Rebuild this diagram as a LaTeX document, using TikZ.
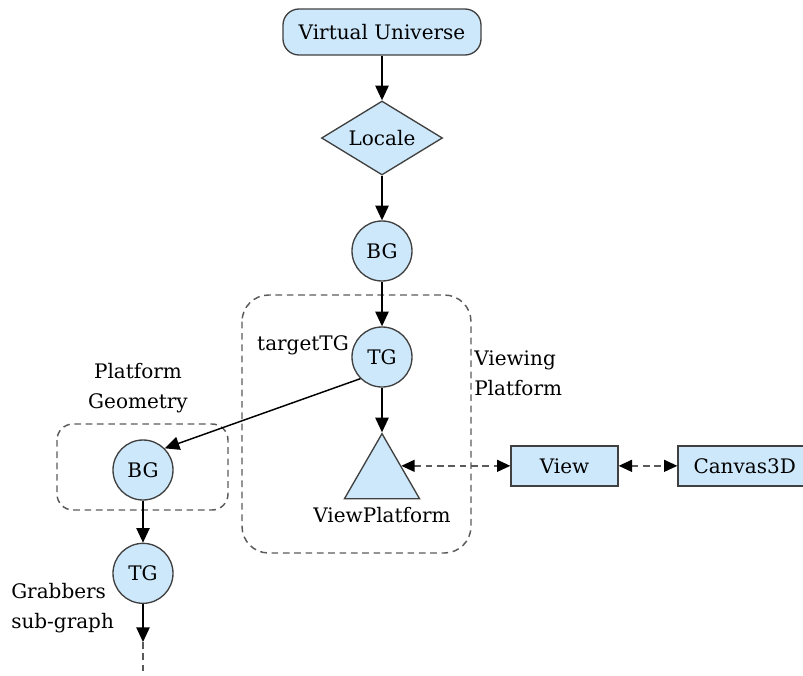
\documentclass[tikz,border=0pt]{standalone}
\usepackage{fontspec}
\setmainfont{DejaVu Serif}
\usetikzlibrary{arrows.meta, positioning, shapes.geometric, calc}
\definecolor{NodeColor}{RGB}{205, 232, 250}
\definecolor{BorderColor}{RGB}{64, 64, 64}
\definecolor{GroupColor}{RGB}{90, 90, 90}

\begin{document}
\begin{tikzpicture}[
    x=0.75pt, y=-0.75pt,
    node distance=33.5pt and 44pt,
    every node/.style={font=\fontsize{15}{18}\selectfont},
    shape_node/.style={
        draw=BorderColor,
        fill=NodeColor,
        line width=1pt,
        inner sep=0pt
    },
    universe/.style={shape_node, rounded corners=12pt, minimum width=148.5pt, minimum height=34.5pt},
    locale_node/.style={shape_node, diamond, aspect=1.635, minimum width=90.75pt, minimum height=55.5pt},
    group_node/.style={shape_node, circle, minimum size=45pt},
    leaf/.style={shape_node, regular polygon, regular polygon sides=3, minimum size=65pt},
    box/.style={shape_node, rectangle, minimum width=80.25pt, minimum height=30pt},
    arrow/.style={-{Triangle[length=11pt, width=10pt]}, line width=1.1pt, black},
    doublearrow/.style={{Triangle[length=10pt, width=9pt, color=black]}-{Triangle[length=10pt, width=9pt, color=black]}, dash pattern=on 5pt off 3.5pt, line width=1.1pt, GroupColor},
    group/.style={draw=GroupColor, dash pattern=on 5pt off 3.5pt, line width=1.1pt},
    caption/.style={align=center, inner sep=0pt}
]

\useasboundingbox (0,0) rectangle (803,675);

% Main scene graph
\node[universe] at (382, 32) (virtual_universe) {Virtual Universe};
\node[locale_node, below=of virtual_universe] (locale) {Locale};
\node[group_node, below=of locale] (branch_group) {BG};
\node[group_node, below=of branch_group] (target_tg) {TG};
\node[leaf, below=of target_tg] (view_platform) {};
\node[caption, below=6pt of view_platform] (view_platform_label) {ViewPlatform};

% View side
\node[box, right=81.75pt of view_platform.30] (view) {View};
\node[box, right=of view, minimum width=100pt] (canvas) {Canvas3D};

% Platform geometry branch
\node[group_node] at (143, 470) (geometry_bg) {BG};
\node[group_node, below=31.5pt of geometry_bg] (grabbers_tg) {TG};
\coordinate[below=28.5pt of grabbers_tg] (grabbers_end);
\coordinate (grabbers_out) at (143, 680);

% Groups
\draw[group, rounded corners=20pt] (242, 295) rectangle (471, 553);
\draw[group, rounded corners=12pt] (57, 424) rectangle (228, 510);

% Labels
\node[caption, anchor=east] at (349, 345) (target_label) {targetTG};
\node[caption, align=left, anchor=west, font=\fontsize{15}{22.5}\selectfont] at (474, 373) (viewing_label) {Viewing\\Platform};
\node[caption, font=\fontsize{15}{22.5}\selectfont] at (138, 388) (geometry_label) {Platform\\Geometry};
\node[caption, align=left, anchor=west, font=\fontsize{15}{22.5}\selectfont] at (11, 608) (grabbers_label) {Grabbers\\sub-graph};

% Connections
\draw[arrow] (virtual_universe) -- (locale);
\draw[arrow] (locale) -- (branch_group);
\draw[arrow] (branch_group) -- (target_tg);
\draw[arrow] (target_tg) -- (view_platform.north);
\draw[arrow] (target_tg.south west) -- (geometry_bg.north east);
\draw[arrow] (geometry_bg) -- (grabbers_tg);
\draw[arrow] (grabbers_tg) -- (grabbers_end);
\draw[group] (grabbers_end) -- (grabbers_out);

% View connections
\draw[doublearrow] (view_platform.30) -- (view);
\draw[doublearrow] (view) -- (canvas);

\end{tikzpicture}
\end{document}
